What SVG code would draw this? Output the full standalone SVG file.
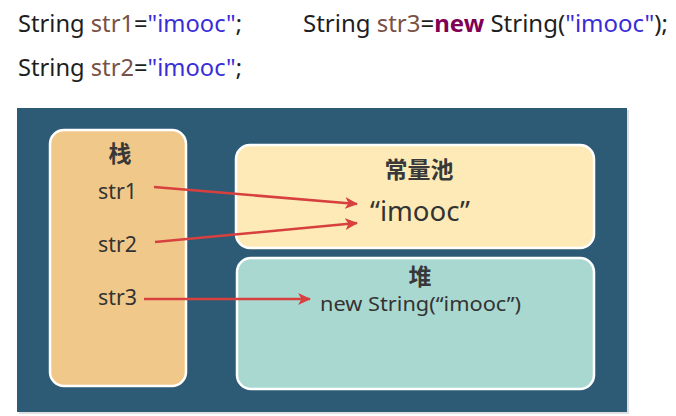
<svg xmlns="http://www.w3.org/2000/svg" width="676" height="416" viewBox="0 0 676 416">
<defs>
<style>
.code{font-family:"Noto Sans","Open Sans","Liberation Sans",sans-serif;font-size:23px;fill:#1e1e1e}
.var{fill:#7a5146}
.str{fill:#3a2cd6}
.kw{fill:#7f0055;font-weight:bold}
.lbl{font-family:"Noto Sans","Noto Sans CJK SC",sans-serif;fill:#333333}
.title{font-family:"Noto Sans CJK SC","Noto Sans",sans-serif;font-weight:bold;font-size:23px;fill:#383838}
.box{stroke:#ffffff;stroke-width:2.5}
.conn{stroke:#d8403f;stroke-width:2.5;fill:none}
</style>
<marker id="ah" markerUnits="userSpaceOnUse" markerWidth="14" markerHeight="12" refX="12" refY="6" orient="auto">
<path d="M0,0 L13,6 L0,12 L3.5,6 z" fill="#d8403f"/>
</marker>
</defs>
<rect width="676" height="416" fill="#ffffff"/>
<text class="code" x="18" y="32" textLength="224" lengthAdjust="spacingAndGlyphs">String <tspan class="var">str1</tspan>=<tspan class="str">"imooc"</tspan>;</text>
<text class="code" x="303" y="32" textLength="365" lengthAdjust="spacingAndGlyphs">String <tspan class="var">str3</tspan>=<tspan class="kw">new</tspan> String(<tspan class="str">"imooc"</tspan>);</text>
<text class="code" x="18" y="76" textLength="224" lengthAdjust="spacingAndGlyphs">String <tspan class="var">str2</tspan>=<tspan class="str">"imooc"</tspan>;</text>
<rect x="19" y="110" width="610" height="304" fill="#c9c9c9" opacity="0.6"/>
<rect id="panel" x="17" y="108" width="610" height="304" fill="#2d5b75"/>
<g id="stack">
<rect class="box" x="50" y="130" width="136" height="256" rx="14" fill="#f0c98a"/>
<text class="title" x="120" y="162" text-anchor="middle">栈</text>
<text class="lbl" x="98" y="199" font-size="21" textLength="39" lengthAdjust="spacingAndGlyphs">str1</text>
<text class="lbl" x="98" y="252" font-size="21" textLength="39" lengthAdjust="spacingAndGlyphs">str2</text>
<text class="lbl" x="98" y="305" font-size="21" textLength="39" lengthAdjust="spacingAndGlyphs">str3</text>
</g>
<g id="pool">
<rect class="box" x="236" y="145" width="358" height="103" rx="14" fill="#fdeab6"/>
<text class="title" x="419" y="178" text-anchor="middle">常量池</text>
<text class="lbl" x="370" y="221" font-size="28" textLength="100" lengthAdjust="spacingAndGlyphs">“imooc”</text>
</g>
<g id="heap">
<rect class="box" x="237" y="258" width="357" height="131" rx="14" fill="#a9d8d0"/>
<text class="title" x="420" y="285" text-anchor="middle" font-size="22">堆</text>
<text class="lbl" x="320" y="311" font-size="20" textLength="201" lengthAdjust="spacingAndGlyphs">new String(“imooc”)</text>
</g>
<g id="connectors">
<line class="conn" x1="154" y1="187" x2="357" y2="204" marker-end="url(#ah)"/>
<line class="conn" x1="155" y1="242" x2="357" y2="223" marker-end="url(#ah)"/>
<line class="conn" x1="144" y1="299" x2="310" y2="299" marker-end="url(#ah)"/>
</g>
</svg>
